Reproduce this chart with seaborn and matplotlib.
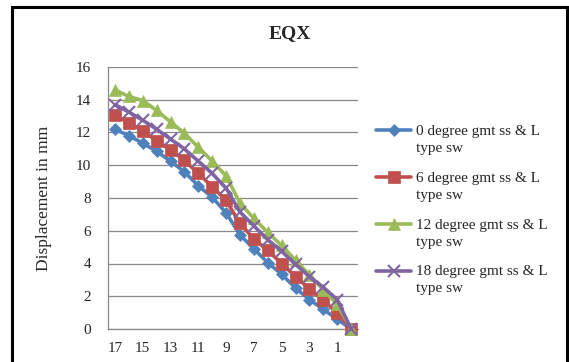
import numpy as np
import pandas as pd
import matplotlib
matplotlib.use("Agg")
import matplotlib.pyplot as plt
import seaborn as sns
from matplotlib.patches import Rectangle

# ---- data ----
categories = [17, 16, 15, 14, 13, 12, 11, 10, 9, 8, 7, 6, 5, 4, 3, 2, 1, 0]
series_names = ["0 degree gmt ss & L\ntype sw", "6 degree gmt ss & L\ntype sw",
                "12 degree gmt ss & L\ntype sw", "18 degree gmt ss & L\ntype sw"]
deg0 = [12.2, 11.8, 11.35, 10.85, 10.25, 9.6, 8.75, 8.05, 7.1, 5.75, 4.9, 4.05, 3.35, 2.5, 1.8, 1.2, 0.6, 0]
deg6 = [13.05, 12.6, 12.1, 11.5, 10.95, 10.3, 9.5, 8.7, 7.85, 6.45, 5.5, 4.8, 4.0, 3.2, 2.45, 1.78, 0.95, 0]
deg12 = [14.6, 14.2, 13.95, 13.35, 12.65, 11.95, 11.1, 10.25, 9.35, 7.7, 6.75, 5.9, 5.1, 4.2, 3.3, 2.4, 1.5, 0]
deg18 = [13.7, 13.25, 12.75, 12.2, 11.6, 11.0, 10.25, 9.5, 8.6, 7.15, 6.3, 5.45, 4.75, 3.95, 3.2, 2.55, 1.8, 0]
y_ticks = [0, 2, 4, 6, 8, 10, 12, 14, 16]
title = "EQX"
ylabel = "Displacement in mm"

colors = ["#4F81BD", "#C0504D", "#9BBB59", "#8064A2"]
markers = ["D", "s", "^", "x"]
msizes = [6, 8, 8, 8]

sns.set_style("white")
plt.rcParams["font.family"] = ["Liberation Serif", "DejaVu Serif"]

W, H = 569, 362
fig = plt.figure(figsize=(W / 100, H / 100), dpi=100)
fig.patch.set_facecolor("white")

ax = fig.add_axes([108 / W, 1 - 329 / H, (358 - 108) / W, (329 - 67) / H])

pos = np.arange(len(categories))
for vals, name, c, m, ms in zip([deg0, deg6, deg12, deg18], series_names, colors, markers, msizes):
    df = pd.DataFrame({"x": pos, "y": vals})
    sns.lineplot(data=df, x="x", y="y", ax=ax, color=c, marker=m, markersize=ms,
                 linewidth=2.6, markeredgecolor=c, markeredgewidth=1.5 if m == "x" else 0.5,
                 label=name, clip_on=False, zorder=3)

ax.set_xlim(-0.5, len(categories) - 0.5)
ax.set_ylim(0, 16)
ax.set_yticks(y_ticks)
ax.set_yticklabels([str(v) for v in y_ticks], fontsize=11)
ax.set_xticks(pos[::2])
ax.set_xticklabels([str(c) for c in categories[::2]], fontsize=11)
ax.tick_params(axis="y", length=0, pad=12)
ax.tick_params(axis="x", length=0, pad=9)
ax.set_xlabel("")
ax.set_ylabel("")
ax.grid(axis="y", color="#888888", linewidth=0.9)
ax.grid(axis="x", visible=False)
ax.set_axisbelow(True)
for s in ["top", "right"]:
    ax.spines[s].set_visible(False)
for s in ["left", "bottom"]:
    ax.spines[s].set_color("#888888")
    ax.spines[s].set_linewidth(0.9)

fig.text(290 / W, 1 - 34 / H, title, fontsize=14, fontweight="bold", ha="center", va="center")
fig.text(44 / W, 1 - 198 / H, ylabel, fontsize=12.5, rotation=90, ha="center", va="center")

leg = ax.legend(loc="upper left", bbox_to_anchor=(376 / W, 1 - 125 / H),
                bbox_transform=fig.transFigure, frameon=False, fontsize=11,
                handlelength=2.3, handletextpad=0.3, labelspacing=1.1,
                borderaxespad=0, borderpad=0)
for t in leg.get_texts():
    t.set_linespacing(1.4)
try:
    for col in leg._legend_handle_box.get_children():
        for hp in col.get_children():
            hp.align = "top"
except Exception:
    pass

# outer frame (bottom edge cut off in the reference)
fig.patches.append(Rectangle((12 / W, -0.05), (567 - 12) / W, 1 - 6.5 / H + 0.05,
                             transform=fig.transFigure, fill=False,
                             edgecolor="black", linewidth=2.2, zorder=10))

fig.savefig("out.png", dpi=100)
